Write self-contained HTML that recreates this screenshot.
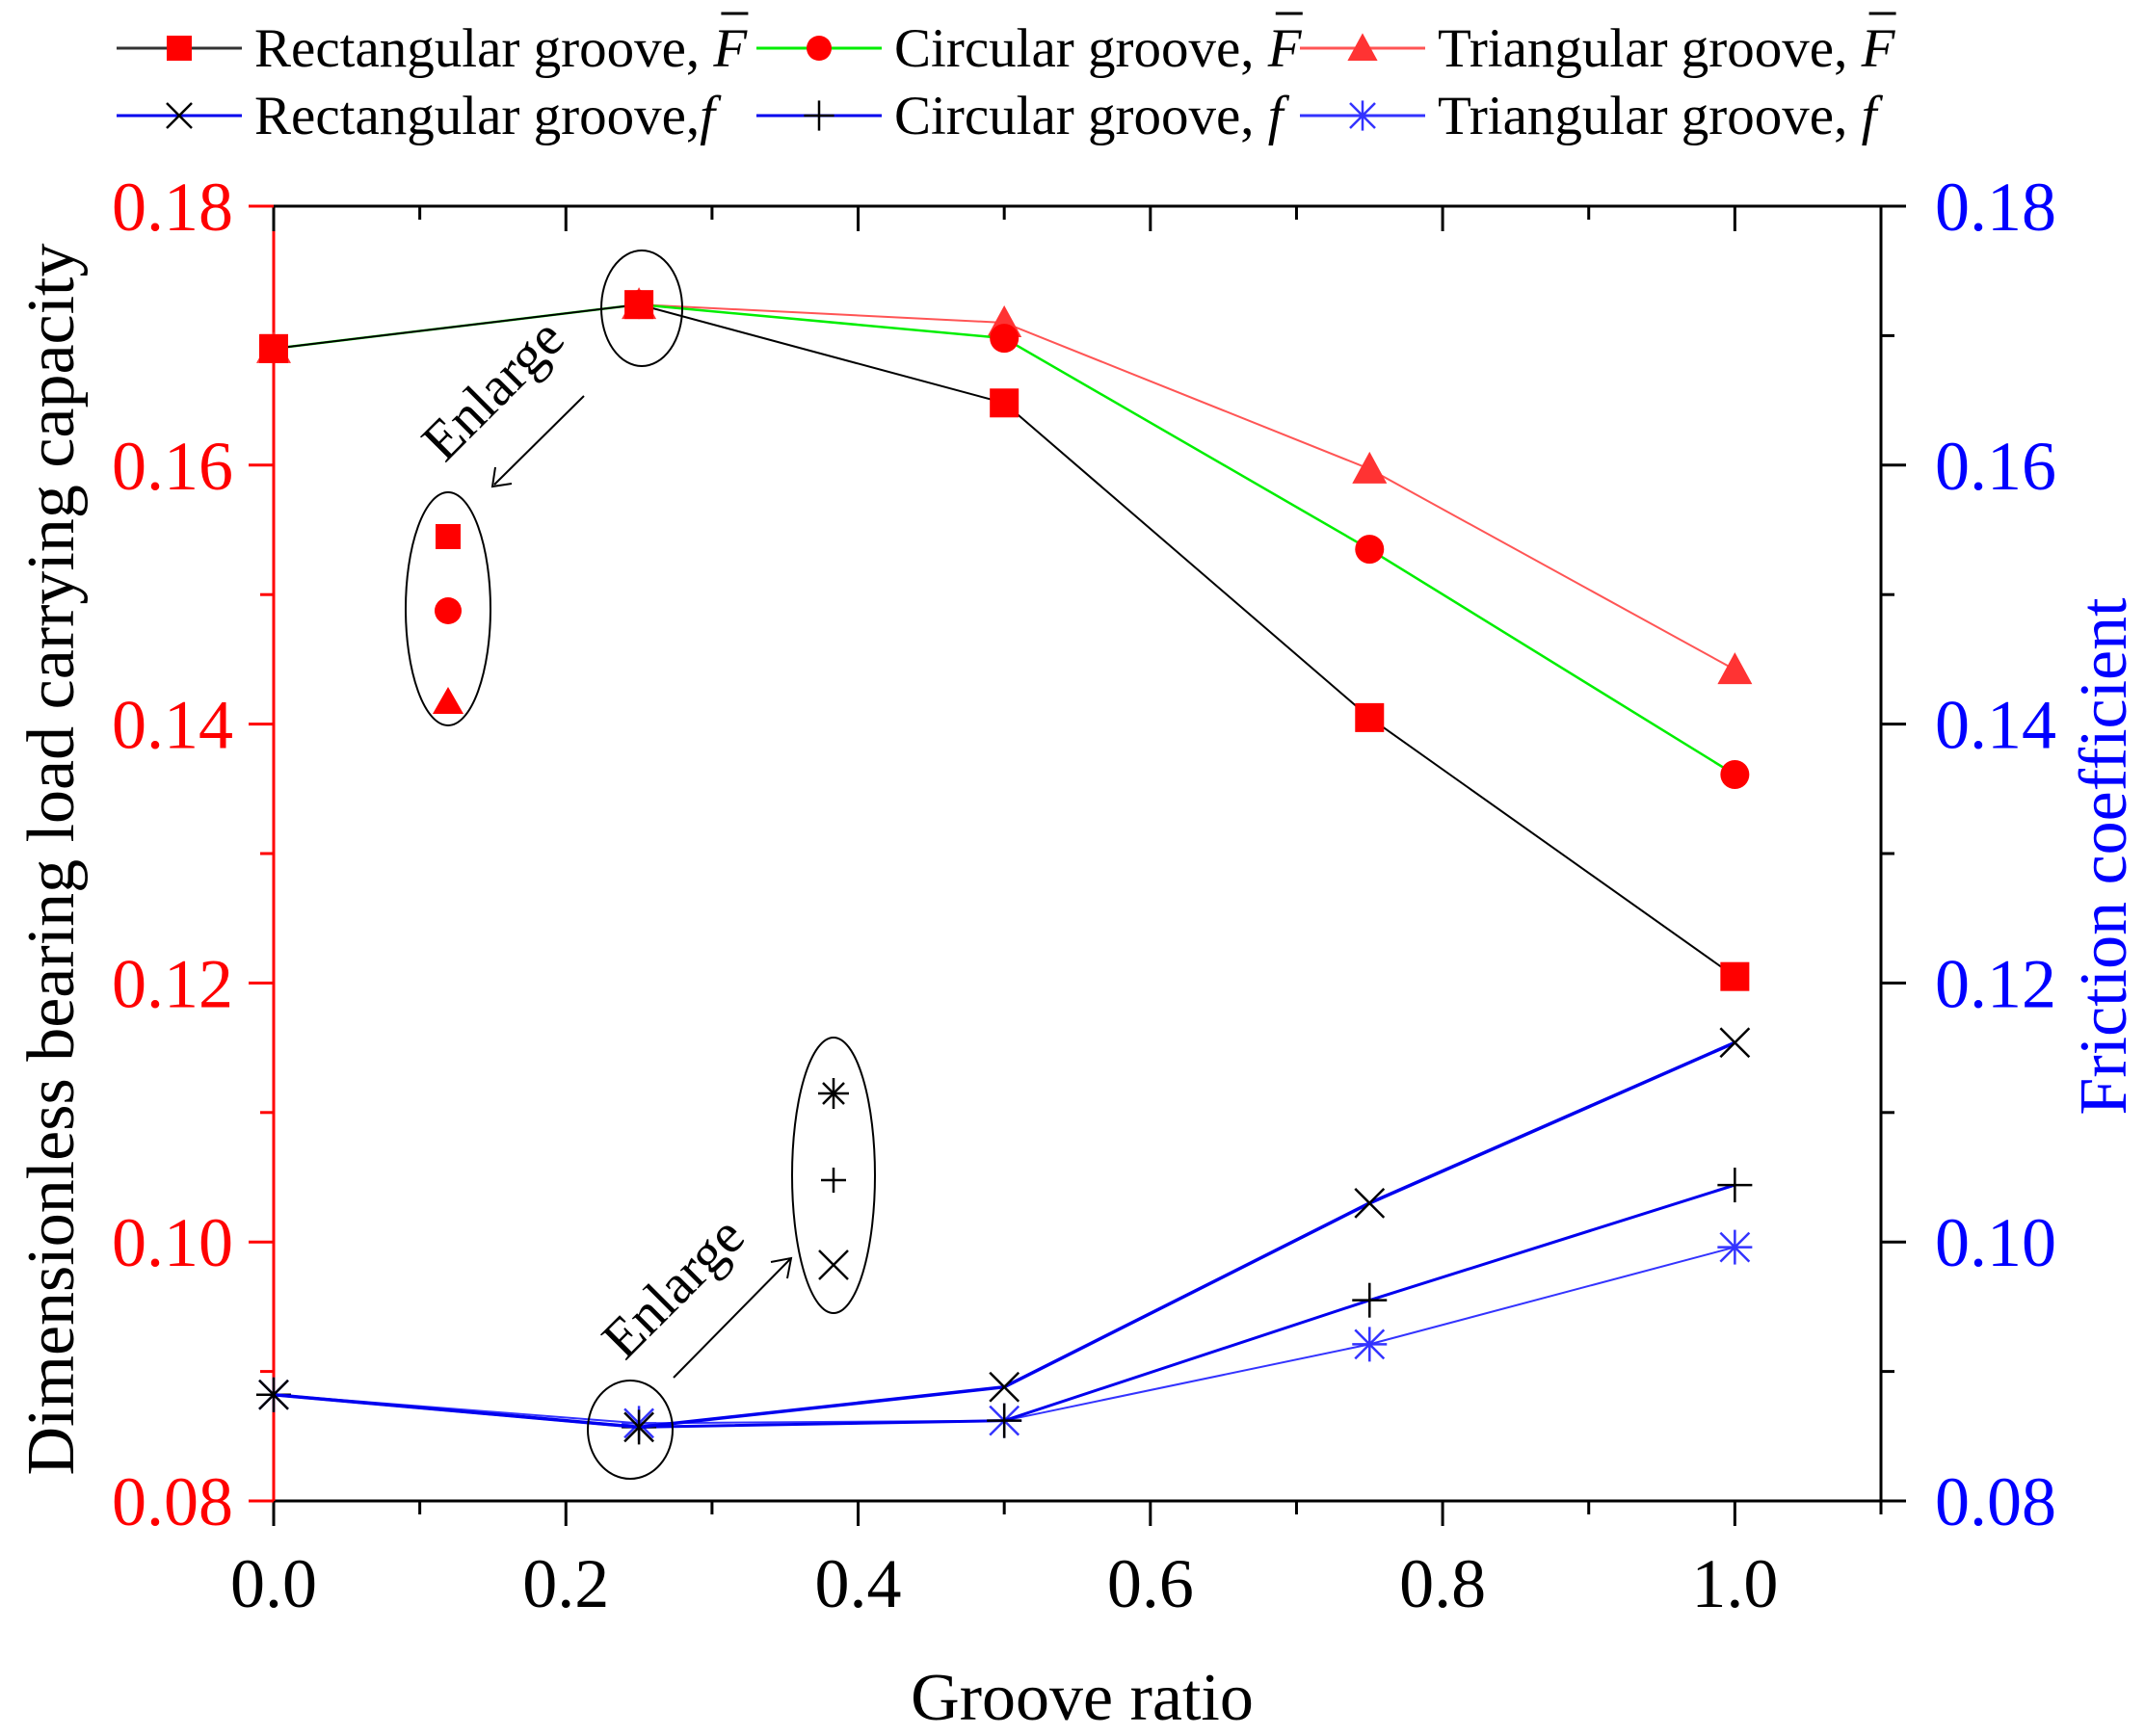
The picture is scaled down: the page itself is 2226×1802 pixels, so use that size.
<!DOCTYPE html>
<html><head><meta charset="utf-8"><style>
html,body{margin:0;padding:0;background:#fff}
svg, svg text{font-family:"Liberation Serif","Times New Roman",serif}
</style></head><body>
<svg id="chart" width="2226" height="1797" viewBox="0 0 2226 1797" xmlns="http://www.w3.org/2000/svg" font-family="Liberation Serif, serif">
<g id="frame"></g>
<g id="series"></g>
<g id="annot">
  <ellipse cx="666" cy="320" rx="42" ry="60" fill="none" stroke="#000" stroke-width="2"/>
  <ellipse cx="465" cy="632" rx="44" ry="121" fill="none" stroke="#000" stroke-width="2"/>
  <line x1="606" y1="411" x2="513" y2="503" stroke="#000" stroke-width="2"/>
  <polyline points="514,485 511,505 531,502" fill="none" stroke="#000" stroke-width="2"/>
  <text transform="translate(525,418) rotate(-45)" font-size="58" text-anchor="middle">Enlarge</text>
  <rect x="452" y="544" width="26" height="26" fill="#f00"/>
  <circle cx="465" cy="634" r="14" fill="#f00"/>
  <polygon points="465,713 449,741 481,741" fill="#f00"/>
  <ellipse cx="654" cy="1484" rx="44" ry="51" fill="none" stroke="#000" stroke-width="2"/>
  <ellipse cx="865" cy="1220" rx="43" ry="143" fill="none" stroke="#000" stroke-width="2"/>
  <line x1="699" y1="1430" x2="820" y2="1307" stroke="#000" stroke-width="2"/>
  <polyline points="800,1310 821,1306 817,1327" fill="none" stroke="#000" stroke-width="2"/>
  <text transform="translate(712,1350) rotate(-45)" font-size="58" text-anchor="middle">Enlarge</text>
  <g stroke="#000" stroke-width="2.5">
    <line x1="849" y1="1135" x2="881" y2="1135"/><line x1="865" y1="1119" x2="865" y2="1151"/>
    <line x1="854" y1="1124" x2="876" y2="1146"/><line x1="876" y1="1124" x2="854" y2="1146"/></g>
  <g stroke="#000" stroke-width="2.5">
    <line x1="852" y1="1225" x2="878" y2="1225"/><line x1="865" y1="1212" x2="865" y2="1238"/></g>
  <g stroke="#000" stroke-width="2.5">
    <line x1="850" y1="1298" x2="880" y2="1328"/><line x1="880" y1="1298" x2="850" y2="1328"/></g>
</g>
<g id="legend"></g>
<text x="1123" y="1785" font-size="70" text-anchor="middle">Groove ratio</text>
<text transform="translate(76,892) rotate(-90)" font-size="70" text-anchor="middle">Dimensionless bearing load carrying capacity</text>
<text transform="translate(2206,889) rotate(-90)" font-size="70" text-anchor="middle" fill="#00f">Friction coefficient</text>
</svg>
<script>
const xs = [0, 0.25, 0.5, 0.75, 1.0];
const rectF = [0.169, 0.1724, 0.1648, 0.1405, 0.1205];
const circF = [0.169, 0.1724, 0.1698, 0.1535, 0.1361];
const triF  = [0.169, 0.1724, 0.1710, 0.1597, 0.1442];
const rectf = [0.0882, 0.0857, 0.0888, 0.1030, 0.1154];
const circf = [0.0882, 0.0857, 0.0862, 0.0955, 0.1044];
const trif  = [0.0882, 0.0860, 0.0862, 0.0921, 0.0996];
const xTicks = [0, 0.2, 0.4, 0.6, 0.8, 1.0];
const xTickLabels = ["0.0","0.2","0.4","0.6","0.8","1.0"];
const yTicks = [0.08, 0.10, 0.12, 0.14, 0.16, 0.18];
const yTickLabels = ["0.08","0.10","0.12","0.14","0.16","0.18"];

const NS = "http://www.w3.org/2000/svg";
const L = 284, R = 1952, T = 214, B = 1558;
const X = v => L + v / 1.1 * (R - L);
const Y = v => B - (v - 0.08) / 0.10 * (B - T);
function mk(tag, attrs, parent){ const e = document.createElementNS(NS, tag); for (const k in attrs) e.setAttribute(k, attrs[k]); parent.appendChild(e); return e; }

const frame = document.getElementById('frame');
let e;
e = mk('line', {x1:L, y1:T, x2:R, y2:T, stroke:'#000', 'stroke-width':3}, frame);
 
e = mk('line', {x1:L, y1:B, x2:R, y2:B, stroke:'#000', 'stroke-width':3}, frame);
 
e = mk('line', {x1:R, y1:T, x2:R, y2:B, stroke:'#000', 'stroke-width':3}, frame);
 
e = mk('line', {x1:L, y1:T, x2:L, y2:T+26, stroke:'#000', 'stroke-width':3}, frame);
 
e = mk('line', {x1:L, y1:T+26, x2:L, y2:B, stroke:'#f00', 'stroke-width':3}, frame);
 

for (let i = 0; i <= 11; i++) {
  const v = i * 0.1, x = X(v), major = (i % 2 === 0);
  e = mk('line', {x1:x, y1:B, x2:x, y2:B + (major ? 26 : 14), stroke:'#000', 'stroke-width':3}, frame);
   
  e = mk('line', {x1:x, y1:T, x2:x, y2:T + (major ? 26 : 14), stroke:'#000', 'stroke-width':3}, frame);
   
}
xTicks.forEach((v, i) => {
  e = mk('text', {x:X(v), y:1668, 'font-size':72, 'text-anchor':'middle'}, frame);
  e.textContent = xTickLabels[i];
   
});
for (let i = 0; i <= 10; i++) {
  const v = 0.08 + i * 0.01, y = Y(v), major = (i % 2 === 0);
  e = mk('line', {x1:L - (major ? 26 : 14), y1:y, x2:L, y2:y, stroke:'#f00', 'stroke-width':3}, frame);
   
  e = mk('line', {x1:R, y1:y, x2:R + (major ? 26 : 14), y2:y, stroke:'#000', 'stroke-width':3}, frame);
   
}
yTicks.forEach((v, i) => {
  e = mk('text', {x:242, y:Y(v) + 25, 'font-size':72, 'text-anchor':'end', fill:'#f00'}, frame);
  e.textContent = yTickLabels[i];
   
  e = mk('text', {x:2008, y:Y(v) + 25, 'font-size':72, 'text-anchor':'start', fill:'#00f'}, frame);
  e.textContent = yTickLabels[i];
   
});

function marker(g, type, cx, cy, s, color) {
  let m;
  if (type === 'square') m = mk('rect', {x:cx-s/2, y:cy-s/2, width:s, height:s, fill:color}, g);
  else if (type === 'circle') m = mk('circle', {cx:cx, cy:cy, r:s/2, fill:color}, g);
  else if (type === 'triangle') m = mk('polygon', {points:`${cx},${cy-s*0.6} ${cx-s*0.6},${cy+s*0.5} ${cx+s*0.6},${cy+s*0.5}`, fill:color}, g);
  else {
    m = mk('g', {stroke:color, 'stroke-width':2.5}, g);
    const h = s/2;
    if (type === 'x' || type === 'asterisk') { mk('line',{x1:cx-h,y1:cy-h,x2:cx+h,y2:cy+h},m); mk('line',{x1:cx+h,y1:cy-h,x2:cx-h,y2:cy+h},m); }
    if (type === 'plus' || type === 'asterisk') { mk('line',{x1:cx-h*1.2,y1:cy,x2:cx+h*1.2,y2:cy},m); mk('line',{x1:cx,y1:cy-h*1.2,x2:cx,y2:cy+h*1.2},m); }
  }
  return m;
}

const seriesG = document.getElementById('series');
const defs = [
  {vals:trif,  line:'#3333ff', w:2,   mk:'asterisk', mc:'#3333ff', name:'triangular-friction'},
  {vals:circf, line:'#0000ee', w:3,   mk:'plus',     mc:'#000',    name:'circular-friction'},
  {vals:rectf, line:'#0000ee', w:3.5, mk:'x',        mc:'#000',    name:'rectangular-friction'},
  {vals:triF,  line:'#ff5555', w:2,   mk:'triangle', mc:'#ff3333', name:'triangular-load'},
  {vals:circF, line:'#00ee00', w:2.5, mk:'circle',   mc:'#ff0000', name:'circular-load'},
  {vals:rectF, line:'#000',    w:2,   mk:'square',   mc:'#ff0000', name:'rectangular-load'}
];
defs.forEach(d => {
  const g = mk('g', {}, seriesG);
  
  
  const pl = mk('polyline', {points: xs.map((x,i)=>`${X(x)},${Y(d.vals[i])}`).join(' '), fill:'none', stroke:d.line, 'stroke-width':d.w}, g);
  
  
  xs.forEach((x,i) => {
    const m = marker(g, d.mk, X(x), Y(d.vals[i]), 30, d.mc);
    
    
  });
});

const legend = document.getElementById('legend');
const leg = [
  {x:121, y:50,  line:'#333', mk:'square', mc:'#f00', label:'Rectangular groove, ', it:'F', bar:true},
  {x:785, y:50,  line:'#00ee00', mk:'circle', mc:'#f00', label:'Circular groove, ', it:'F', bar:true},
  {x:1349,y:50,  line:'#ff5555', mk:'triangle', mc:'#ff3333', label:'Triangular groove, ', it:'F', bar:true},
  {x:121, y:120, line:'#0000ee', mk:'x', mc:'#000', label:'Rectangular groove,', it:'f', bar:false},
  {x:785, y:120, line:'#0000ee', mk:'plus', mc:'#000', label:'Circular groove, ', it:'f', bar:false},
  {x:1349,y:120, line:'#3333ff', mk:'asterisk', mc:'#3333ff', label:'Triangular groove, ', it:'f', bar:false}
];
leg.forEach(l => {
  const g = mk('g', {}, legend);
  
  
  mk('line', {x1:l.x, y1:l.y, x2:l.x+130, y2:l.y, stroke:l.line, 'stroke-width':3}, g);
  marker(g, l.mk, l.x+65, l.y, 26, l.mc);
  const t = mk('text', {x:l.x+143, y:l.y+19, 'font-size':57}, g);
  t.appendChild(document.createTextNode(l.label));
  const ts = mk('tspan', {'font-style':'italic'}, t);
  ts.textContent = l.it;
  if (l.bar) {
    const bb = t.getBBox();
    mk('line', {x1:bb.x+bb.width-28, y1:l.y-36, x2:bb.x+bb.width, y2:l.y-36, stroke:'#000', 'stroke-width':3}, g);
  }
});
</script>
</body></html>
